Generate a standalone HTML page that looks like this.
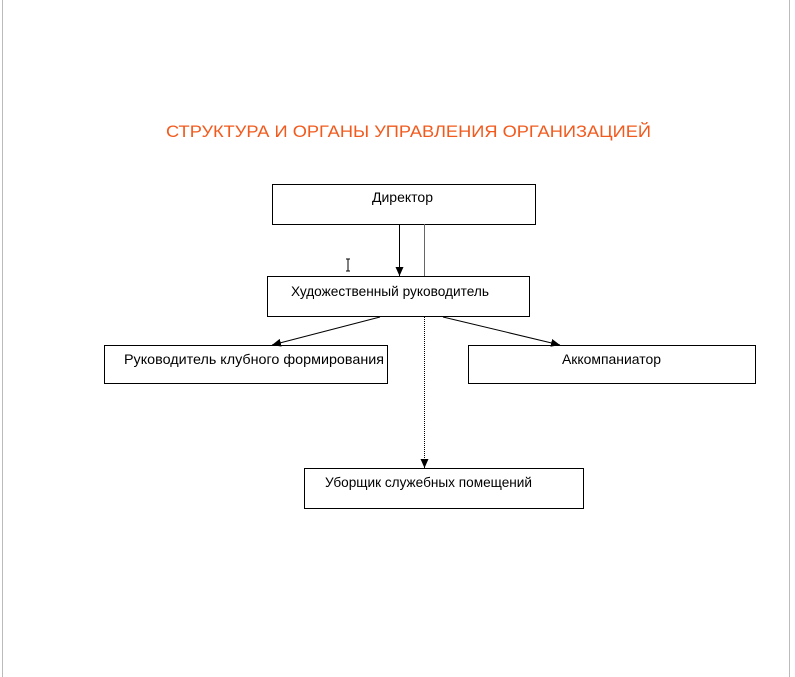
<!DOCTYPE html>
<html><head><meta charset="utf-8"><style>
html,body{margin:0;padding:0;background:#fff;width:795px;height:677px;overflow:hidden}
svg{display:block}
text{font-family:"Liberation Sans","DejaVu Sans",sans-serif}
</style></head><body>
<svg width="795" height="677" viewBox="0 0 795 677" xmlns="http://www.w3.org/2000/svg">
<defs><marker id="a" markerWidth="10" markerHeight="10" refX="9" refY="5" orient="auto" markerUnits="userSpaceOnUse"><path d="M0,1 L9,5 L0,9 z" fill="#000"/></marker></defs>
<line x1="2.5" y1="0" x2="2.5" y2="677" stroke="#bbb"/>
<line x1="789.5" y1="0" x2="789.5" y2="677" stroke="#bbb"/>
<text x="166" y="137" font-size="17" fill="#f25a1d" textLength="485" lengthAdjust="spacingAndGlyphs">СТРУКТУРА И ОРГАНЫ УПРАВЛЕНИЯ ОРГАНИЗАЦИЕЙ</text>
<g fill="none" stroke="#000" stroke-width="1">
<rect x="272.5" y="184.5" width="263" height="40"/>
<rect x="267.5" y="276.5" width="262" height="40"/>
<rect x="104.5" y="345.5" width="283" height="38"/>
<rect x="468.5" y="345.5" width="287" height="38"/>
<rect x="304.5" y="468.5" width="279" height="40"/>
<line x1="399.5" y1="224" x2="399.5" y2="276" marker-end="url(#a)"/>
<line x1="424.5" y1="224" x2="424.5" y2="276" stroke="#666"/>
<line x1="380" y1="317" x2="272" y2="345" marker-end="url(#a)"/>
<line x1="443" y1="317" x2="560" y2="345" marker-end="url(#a)"/>
<line x1="424.5" y1="317" x2="424.5" y2="468" stroke-dasharray="1,1" marker-end="url(#a)"/>
<path d="M346,259 h4 M348,259 v12 M346,271 h4" stroke="#000"/>
</g>
<g font-size="14" fill="#000" lengthAdjust="spacingAndGlyphs">
<text x="372" y="202" textLength="61" lengthAdjust="spacingAndGlyphs">Директор</text>
<text x="291" y="296" textLength="198" lengthAdjust="spacingAndGlyphs">Художественный руководитель</text>
<text x="124" y="364" textLength="260" lengthAdjust="spacingAndGlyphs">Руководитель клубного формирования</text>
<text x="562" y="364" textLength="99" lengthAdjust="spacingAndGlyphs">Аккомпаниатор</text>
<text x="325" y="487" textLength="207" lengthAdjust="spacingAndGlyphs">Уборщик служебных помещений</text>
</g>
</svg>
</body></html>
